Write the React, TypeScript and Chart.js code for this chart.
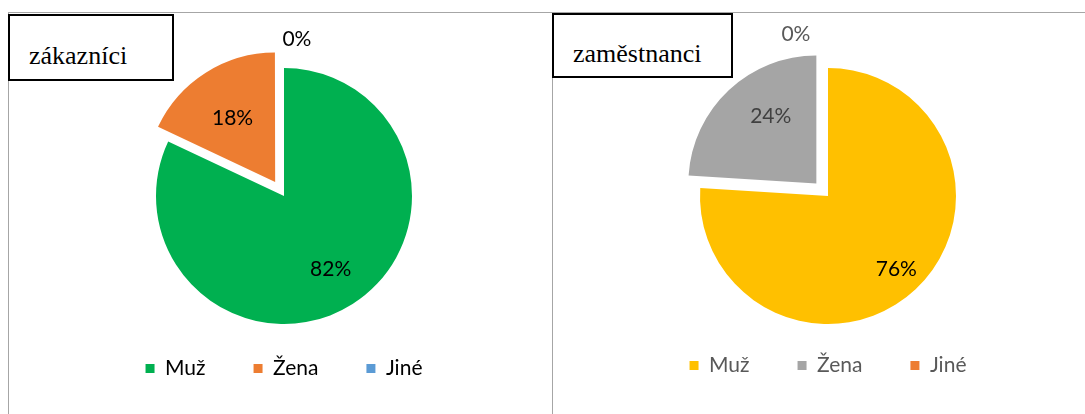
import React, { useEffect, useRef } from "react";
import { Chart, registerables } from "chart.js";

Chart.register(...registerables);

// ---- data ----
const categories = ["Muž", "Žena", "Jiné"];
const customerValues = [82, 18, 0];
const employeeValues = [76, 24, 0];
const customerTitle = "zákazníci";
const employeeTitle = "zaměstnanci";
const customerColors = ["#00B050", "#ED7D31", "#5B9BD5"];
const employeeColors = ["#FFC000", "#A5A5A5", "#ED7D31"];

// label placement (fraction of radius, angular shift in degrees)
const customerLabelPlace = [
  { f: 0.68, shift: 0 },
  { f: 0.73, shift: -1 },
  { f: 1.23, shift: 4.7 },
];
const employeeLabelPlace = [
  { f: 0.78, shift: 0 },
  { f: 0.77, shift: 7.7 },
  { f: 1.29, shift: -11.2 },
];
const customerLabelColors = ["#000000", "#000000", "#000000"];
const employeeLabelColors = ["#000000", "#404040", "#595959"];

const FONT = "Lato, 'Noto Sans', sans-serif";
const FONT_SIZE = 21;

const pctLabelPlugin = {
  id: "pctLabels",
  afterDatasetsDraw(chart: any, _args: any, opts: any) {
    const ctx = chart.ctx;
    const meta = chart.getDatasetMeta(0);
    const ds = chart.data.datasets[0];
    const total = ds.data.reduce((a: number, b: number) => a + b, 0);
    ctx.save();
    ctx.font = `${FONT_SIZE}px ${FONT}`;
    ctx.textAlign = "center";
    ctx.textBaseline = "middle";
    meta.data.forEach((arc: any, i: number) => {
      const p = arc.getProps(["x", "y", "startAngle", "endAngle", "outerRadius"], true);
      const place = opts.place[i];
      const mid = (p.startAngle + p.endAngle) / 2 + (place.shift * Math.PI) / 180;
      const d = p.outerRadius * place.f;
      const x = p.x + Math.cos(mid) * d;
      const y = p.y + Math.sin(mid) * d;
      ctx.fillStyle = opts.colors[i];
      const pct = Math.round((ds.data[i] / total) * 100);
      ctx.fillText(`${pct}%`, x, y);
    });
    ctx.restore();
  },
};

function PieChart(props: {
  values: number[];
  colors: string[];
  offsets: number[];
  place: any[];
  labelColors: string[];
  legendColor: string;
  width: number;
  height: number;
  padding: any;
  style: React.CSSProperties;
}) {
  const ref = useRef<HTMLCanvasElement>(null);
  useEffect(() => {
    if (!ref.current) return;
    const chart = new Chart(ref.current, {
      type: "pie",
      data: {
        labels: categories,
        datasets: [
          {
            data: props.values,
            backgroundColor: props.colors,
            borderWidth: 0,
            offset: props.offsets,
            radius: 128,
          } as any,
        ],
      },
      options: {
        responsive: false,
        animation: false,
        layout: { padding: props.padding },
        plugins: {
          tooltip: { enabled: false },
          title: { display: false },
          legend: {
            display: true,
            position: "bottom",
            labels: {
              boxWidth: 9,
              boxHeight: 9,
              padding: 48,
              color: props.legendColor,
              font: { family: FONT, size: FONT_SIZE },
            },
          },
          pctLabels: { place: props.place, colors: props.labelColors },
        } as any,
      },
      plugins: [pctLabelPlugin],
    });
    return () => chart.destroy();
  }, []);
  return (
    <canvas
      ref={ref}
      width={props.width}
      height={props.height}
      style={{ position: "absolute", width: props.width, height: props.height, ...props.style }}
    />
  );
}

const lineColor = "#a6a6a6";

export default function App() {
  return (
    <div
      style={{
        position: "fixed",
        left: 0,
        top: 0,
        width: 1085,
        height: 414,
        background: "#fff",
        overflow: "hidden",
      }}
    >
      {/* panel frames */}
      <div
        style={{
          position: "absolute",
          left: 8,
          top: 12,
          width: 544,
          height: 402,
          borderTop: `1px solid ${lineColor}`,
          borderLeft: `1px solid ${lineColor}`,
          boxSizing: "border-box",
        }}
      />
      <div
        style={{
          position: "absolute",
          left: 552,
          top: 12,
          width: 533,
          height: 402,
          borderTop: `1px solid ${lineColor}`,
          borderLeft: `1px solid ${lineColor}`,
          boxSizing: "border-box",
        }}
      />
      <PieChart
        values={customerValues}
        colors={customerColors}
        offsets={[0, 66, 0]}
        place={customerLabelPlace}
        labelColors={customerLabelColors}
        legendColor="#000000"
        width={543}
        height={401}
        padding={{ left: 7, right: 0, top: 69, bottom: 25 }}
        style={{ left: 9, top: 13 }}
      />
      <PieChart
        values={employeeValues}
        colors={employeeColors}
        offsets={[0, 68, 0]}
        place={employeeLabelPlace}
        labelColors={employeeLabelColors}
        legendColor="#595959"
        width={532}
        height={401}
        padding={{ left: 18, right: 0, top: 72, bottom: 28 }}
        style={{ left: 553, top: 13 }}
      />
      {/* title boxes */}
      <div
        style={{
          position: "absolute",
          left: 8,
          top: 14,
          width: 166,
          height: 67,
          border: "2px solid #000",
          boxSizing: "border-box",
          background: "#fff",
        }}
      >
        <div
          style={{
            position: "absolute",
            left: 19,
            top: 27,
            fontFamily: "'Liberation Serif', 'Times New Roman', serif",
            fontSize: 26,
            lineHeight: "26px",
            color: "#000",
            whiteSpace: "nowrap",
          }}
        >
          {customerTitle}
        </div>
      </div>
      <div
        style={{
          position: "absolute",
          left: 552,
          top: 13,
          width: 181,
          height: 65,
          border: "2px solid #000",
          boxSizing: "border-box",
          background: "#fff",
        }}
      >
        <div
          style={{
            position: "absolute",
            left: 19,
            top: 26,
            fontFamily: "'Liberation Serif', 'Times New Roman', serif",
            fontSize: 26,
            lineHeight: "26px",
            color: "#000",
            whiteSpace: "nowrap",
          }}
        >
          {employeeTitle}
        </div>
      </div>
    </div>
  );
}
